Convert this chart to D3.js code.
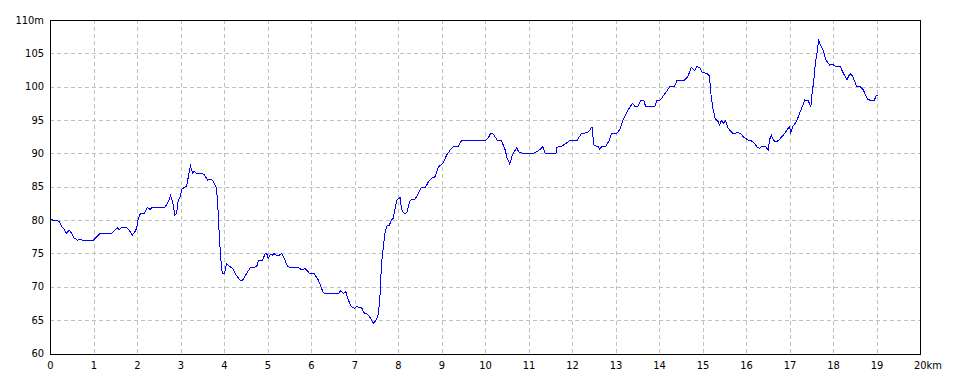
<!DOCTYPE html>
<html lang="ja">
<head>
<meta charset="UTF-8">
<title>標高グラフ</title>
<style>
  * { margin: 0; padding: 0; }
  body { background: #fff; width: 960px; height: 384px; overflow: hidden; }
  svg { display: block; }
  .grid line { stroke: #c0c0c0; stroke-width: 1px; stroke-dasharray: 4 3; shape-rendering: crispEdges; }
  .frame { fill: none; stroke: #000; stroke-width: 1px; shape-rendering: crispEdges; }
  .profile { fill: none; stroke: #0000ff; stroke-width: 1px; shape-rendering: crispEdges; }
  .label { font-family: "DejaVu Sans Condensed", "DejaVu Sans", sans-serif; font-stretch: condensed; font-size: 11px; fill: #000; }
</style>
</head>
<body>
<svg id="chart" width="960" height="384"></svg>
<script src="https://cdn.jsdelivr.net/npm/d3@7/dist/d3.min.js"></script>
<script>
// distance along the route (km) and elevation (m)
const distKm = [
  0, 0.09, 0.21, 0.27, 0.33, 0.38, 0.44, 0.5, 0.55, 0.63, 0.69, 0.8, 0.86, 1.0, 1.15, 1.42,
  1.49, 1.55, 1.59, 1.65, 1.76, 1.82, 1.89, 1.95, 1.99, 2.03, 2.08, 2.17, 2.24, 2.3, 2.34, 2.64,
  2.72, 2.77, 2.82, 2.87, 2.91, 2.95, 2.99, 3.03, 3.08, 3.14, 3.18, 3.23, 3.28, 3.31, 3.37, 3.54,
  3.62, 3.7, 3.75, 3.82, 3.85, 3.87, 3.89, 3.91, 3.93, 3.96, 4.01, 4.06, 4.14, 4.2, 4.28, 4.38,
  4.43, 4.51, 4.61, 4.75, 4.79, 4.89, 4.94, 4.98, 5.02, 5.07, 5.12, 5.15, 5.21, 5.27, 5.33, 5.4,
  5.46, 5.52, 5.71, 5.79, 5.86, 5.92, 5.96, 6.07, 6.17, 6.23, 6.28, 6.36, 6.63, 6.68, 6.74, 6.8,
  6.86, 6.93, 7.0, 7.05, 7.11, 7.16, 7.22, 7.3, 7.37, 7.43, 7.51, 7.55, 7.59, 7.62, 7.66, 7.7,
  7.74, 7.8, 7.85, 7.89, 7.97, 8.05, 8.08, 8.14, 8.2, 8.28, 8.39, 8.49, 8.54, 8.63, 8.7, 8.77,
  8.85, 8.93, 9.03, 9.12, 9.21, 9.27, 9.39, 9.46, 10.0, 10.08, 10.13, 10.19, 10.28, 10.38, 10.46, 10.51,
  10.57, 10.63, 10.73, 10.77, 10.87, 11.11, 11.19, 11.27, 11.33, 11.38, 11.63, 11.65, 11.77, 11.84, 11.94, 12.11,
  12.22, 12.35, 12.41, 12.46, 12.5, 12.6, 12.64, 12.68, 12.78, 12.86, 12.91, 13.03, 13.1, 13.17, 13.29, 13.39,
  13.44, 13.52, 13.59, 13.65, 13.69, 13.79, 13.9, 13.95, 14.03, 14.13, 14.25, 14.36, 14.41, 14.59, 14.67, 14.74,
  14.82, 14.87, 14.93, 15.0, 15.1, 15.16, 15.2, 15.24, 15.29, 15.36, 15.39, 15.43, 15.49, 15.53, 15.59, 15.66,
  15.7, 15.82, 15.87, 15.95, 16.05, 16.12, 16.2, 16.25, 16.31, 16.38, 16.45, 16.51, 16.54, 16.58, 16.64, 16.7,
  16.77, 16.89, 16.97, 17.0, 17.03, 17.08, 17.16, 17.23, 17.3, 17.35, 17.43, 17.49, 17.52, 17.56, 17.59, 17.63,
  17.67, 17.71, 17.77, 17.84, 17.92, 17.98, 18.05, 18.16, 18.21, 18.26, 18.32, 18.36, 18.41, 18.46, 18.54, 18.63,
  18.69, 18.75, 18.8, 18.84, 18.95, 18.99, 19.03
];
const elevM = [
  80.25, 79.9, 79.85, 79, 78.6, 78, 78.5, 78, 77.35, 77, 77.1, 76.9, 77, 77, 78, 78,
  78.5, 78.85, 78.6, 78.9, 78.9, 78.5, 77.75, 78.25, 78.75, 80.25, 81, 81, 81.9, 81.6, 81.9, 81.9,
  82.75, 83.65, 82.75, 80.75, 81, 83, 83.5, 84.6, 84.9, 85.1, 86.5, 88.1, 87.1, 87.3, 87, 86.9,
  86, 86.1, 85.85, 84.9, 83.25, 80.5, 78, 75.75, 74, 72, 72, 73.5, 73, 72.75, 71.75, 70.9,
  71, 71.9, 72.9, 73, 73.9, 74, 74.9, 75, 74.25, 74.9, 74.75, 75, 74.65, 74.75, 75, 74,
  73.1, 72.9, 72.9, 72.5, 72.75, 72.4, 72, 72, 71, 70, 69.1, 69, 69, 69.4, 69, 69.25,
  68, 67, 66.75, 67.1, 66.9, 66.9, 66.1, 65.9, 65.25, 64.5, 65.1, 66, 69, 73.5, 75.75, 78,
  79.1, 79.25, 80, 80.25, 83, 83.4, 81.6, 81, 81.1, 83, 83.1, 84.25, 84.9, 84.9, 85.75, 86.25,
  86.5, 88, 88.5, 89.75, 90.6, 91, 91.1, 91.9, 91.9, 92.4, 93, 92.9, 92, 91.9, 90.6, 89.25,
  88.4, 89.75, 90.9, 90.25, 90, 90, 90.25, 90.6, 91, 90, 90, 90.9, 91.1, 91.4, 91.9, 91.9,
  93, 93.1, 93.5, 94, 91.25, 91, 90.6, 91, 91.1, 92, 93, 93, 93.6, 95, 96.5, 97.5,
  97.1, 97.1, 98, 97.9, 97.1, 97, 97, 97.9, 98, 98.9, 100, 100.1, 100.9, 101, 101.6, 102.9,
  102.4, 103, 102.9, 102.1, 102, 101.6, 98.5, 96.75, 95.25, 94.75, 94.25, 94.9, 94.5, 94.9, 93.75, 93.25,
  93, 93.1, 93, 92.4, 92, 91.9, 91.5, 91, 90.75, 91.1, 91, 90.5, 92, 92.75, 91.9, 91.75,
  92.1, 93, 93.75, 94, 93.1, 94.1, 94.75, 96, 97.1, 98, 97.9, 97, 99, 101, 103.25, 105,
  106.9, 106.25, 105.5, 104, 103.25, 103.4, 103.1, 103.1, 102.4, 101.75, 101, 101.6, 102, 101.4, 100.1, 100,
  99.6, 98.75, 98.1, 98, 98, 98.6, 98.75
];

const xTicks = d3.range(0, 21, 1);
const yTicks = d3.range(60, 111, 5);
const xUnit = 'km';
const yUnit = 'm';

const margin = { top: 20, right: 40, bottom: 30.5, left: 50 };
const width = 960, height = 384;

const svg = d3.select('#chart');
const x = d3.scaleLinear().domain([0, 20]).range([margin.left, width - margin.right]);
const y = d3.scaleLinear().domain([60, 110]).range([height - margin.bottom, margin.top]);

// dashed grid, skipping the lines that sit on the frame
const grid = svg.append('g').attr('class', 'grid');
grid.selectAll('.vx').data(xTicks.slice(1, -1)).join('line')
  .attr('x1', d => Math.round(x(d)) + 0.5).attr('x2', d => Math.round(x(d)) + 0.5)
  .attr('y1', y(110)).attr('y2', y(60));
grid.selectAll('.hy').data(yTicks.slice(1, -1)).join('line')
  .attr('x1', x(0)).attr('x2', x(20))
  .attr('y1', d => Math.round(y(d)) + 0.5).attr('y2', d => Math.round(y(d)) + 0.5);

// profile line
const line = d3.line().x(d => x(d[0])).y(d => y(d[1]));
svg.append('path').attr('class', 'profile')
  .attr('d', line(d3.zip(distKm, elevM)));

// frame
svg.append('rect').attr('class', 'frame')
  .attr('x', x(0) + 0.5).attr('y', y(110) + 0.5)
  .attr('width', x(20) - x(0)).attr('height', y(60) - y(110));

// y labels, unit on the top one
svg.append('g').selectAll('text').data(yTicks).join('text')
  .attr('class', 'label')
  .attr('x', 44).attr('y', d => y(d))
  .attr('text-anchor', 'end').attr('dominant-baseline', 'central')
  .text(d => d === 110 ? d + yUnit : d);

// x labels, unit on the last one
svg.append('g').selectAll('text').data(xTicks).join('text')
  .attr('class', 'label')
  .attr('x', d => d === 20 ? x(d) - 6 : x(d) + 0.5).attr('y', 365)
  .attr('text-anchor', d => d === 20 ? 'start' : 'middle').attr('dominant-baseline', 'central')
  .text(d => d === 20 ? d + xUnit : d);
</script>
</body>
</html>
